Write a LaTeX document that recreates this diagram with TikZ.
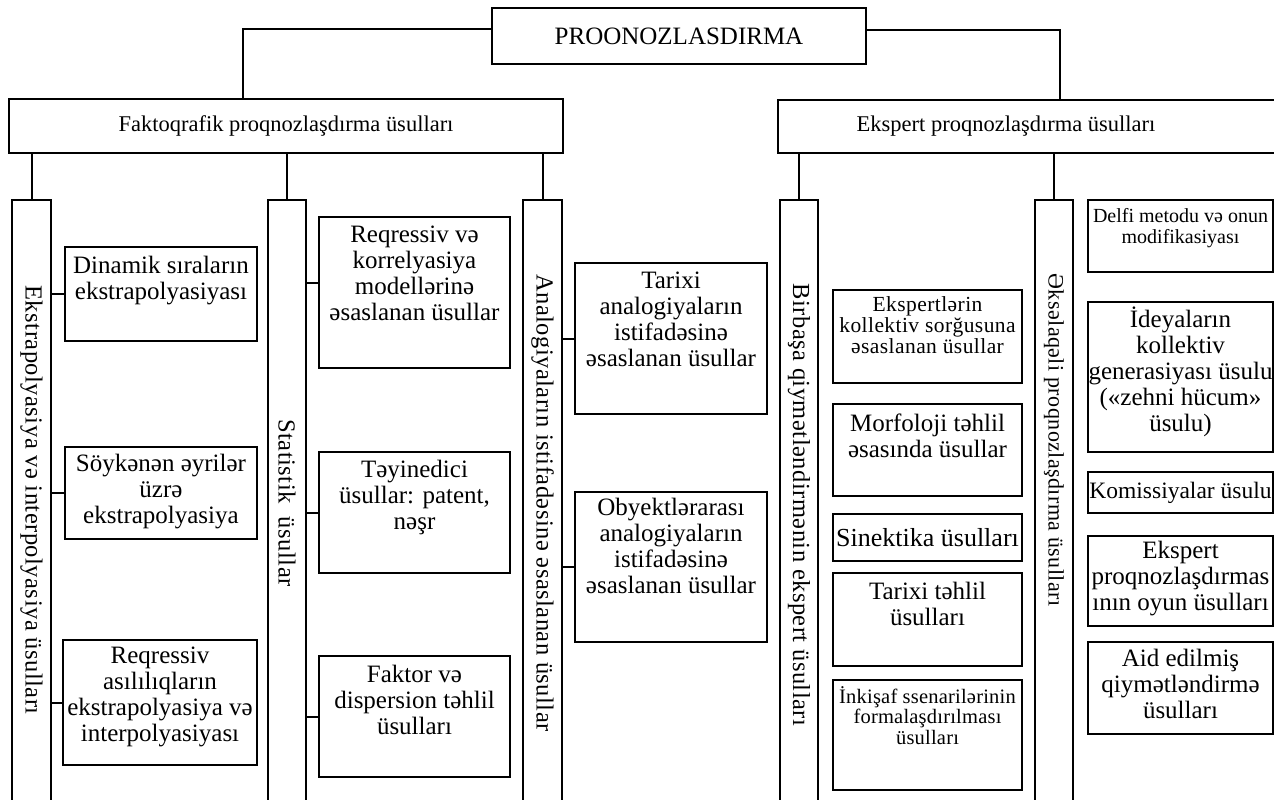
\documentclass[tikz,border=0pt]{standalone}
\usepackage{fontspec}
\setmainfont{Liberation Serif}
% rectangle node from its corners: name, x1, y1, x2, y2 (y grows downwards)
\newcommand\mkbox[5]{%
  \node[frame, minimum width={(#4-#2)*1pt}, minimum height={(#5-#3)*1pt}]
    (#1) at ({(#2+#4)/2},{(#3+#5)/2}) {};}
\begin{document}
\begin{tikzpicture}[x=1pt,y=-1pt,
  frame/.style={draw, line width=2pt, inner sep=0pt, outer sep=0pt},
  conn/.style={line width=2pt},
  big/.style={font=\fontsize{25}{26}\selectfont, align=center, inner sep=0pt},
  small/.style={font=\fontsize{20.5}{20.5}\selectfont\addfontfeatures{LetterSpace=1}, align=center, inner sep=0pt},
  head/.style={font=\fontsize{22.5}{24}\selectfont, inner sep=0pt},
  side/.style={font=\fontsize{24.5}{26}\selectfont\addfontfeatures{LetterSpace=2}, rotate=-90, inner sep=0pt},
  top/.style={anchor=north},
]
\useasboundingbox (0,0) rectangle (1274,800);
\clip (0,0) rectangle (1274,800);

% root and the two main groups
\mkbox{root}{492}{8}{866}{64}
\node[font=\fontsize{25}{28}\selectfont, inner sep=0pt] (root-t) at (root) {PROONOZLASDIRMA};
\mkbox{fakt}{9}{99}{563}{153}
\node[head] (fakt-t) at (fakt) {Faktoqrafik proqnozlaşdırma üsulları};
\mkbox{eksp}{778}{100}{1300}{153}
\node[head] (eksp-t) at (1006,126.5) {Ekspert proqnozlaşdırma üsulları};

\coordinate (jl) at (243,29);
\coordinate (jr) at (1060,30);
\draw[conn] (root.west |- jl) -- (jl) -- (jl |- fakt.north);
\draw[conn] (root.east |- jr) -- (jr) -- (jr |- eksp.north);

% tall group columns
\mkbox{t1}{12}{200}{51}{840}
\mkbox{t2}{268}{200}{306}{840}
\mkbox{t3}{523}{200}{562}{840}
\mkbox{t4}{780}{200}{818}{840}
\mkbox{t5}{1035}{200}{1073}{840}
\foreach \t in {t1,t2,t3} \draw[conn] (\t.north) -- (\t.north |- fakt.south);
\foreach \t in {t4,t5} \draw[conn] (\t.north) -- (\t.north |- eksp.south);

\node[side] (t1-t) at (31.5,500) {Ekstrapolyasiya və interpolyasiya üsulları};
\node[side] (t2-t) at (287,503) {Statistik\ \ üsullar};
\node[side] (t3-t) at (542.5,503) {Analogiyaların istifadəsinə əsaslanan üsullar};
\node[side] (t4-t) at (799,505) {Birbaşa qiymətləndirmənin ekspert üsulları};
\node[side, font=\fontsize{22}{24}\selectfont\addfontfeatures{LetterSpace=2}] (t5-t) at (1054,440) {Əksəlaqəli proqnozlaşdırma üsulları};

% extrapolation methods
\mkbox{a1}{65}{247}{257}{341}
\mkbox{a2}{65}{447}{257}{539}
\mkbox{a3}{63}{640}{257}{765}
\node[big,top] (a1-t) at ([yshift=-9pt]a1.north) {Dinamik sıraların\\ekstrapolyasiyası};
\node[big,top] (a2-t) at ([yshift=-7pt]a2.north) {Söykənən əyrilər\\üzrə\\ekstrapolyasiya};
\node[big,top] (a3-t) at ([yshift=-7pt]a3.north) {Reqressiv\\asılılıqların\\ekstrapolyasiya və\\interpolyasiyası};

% statistical methods
\mkbox{b1}{319}{217}{510}{368}
\mkbox{b2}{319}{452}{510}{573}
\mkbox{b3}{319}{656}{510}{777}
\node[big,top] (b1-t) at ([yshift=-9pt]b1.north) {Reqressiv və\\korrelyasiya\\modellərinə\\əsaslanan üsullar};
\node[big,top] (b2-t) at ([yshift=-8pt]b2.north) {Təyinedici\\üsullar: patent,\\nəşr};
\node[big,top] (b3-t) at ([yshift=-9pt]b3.north) {Faktor və\\dispersion təhlil\\üsulları};

% analogy methods
\mkbox{c1}{575}{263}{767}{414}
\mkbox{c2}{575}{492}{767}{642}
\node[big,top] (c1-t) at ([yshift=-9pt]c1.north) {Tarixi\\analogiyaların\\istifadəsinə\\əsaslanan üsullar};
\node[big,top] (c2-t) at ([yshift=-6pt]c2.north) {Obyektlərarası\\analogiyaların\\istifadəsinə\\əsaslanan üsullar};

\foreach \t/\b in {t1/a1,t1/a2,t1/a3,t2/b2,t2/b3,t3/c1,t3/c2}
  \draw[conn] (\b.west -| \t.east) -- (\b.west);
\draw[conn] ([yshift=10pt]b1.west -| t2.east) -- ([yshift=10pt]b1.west);

% direct expert estimation
\mkbox{d1}{833}{290}{1022}{383}
\mkbox{d2}{833}{404}{1022}{496}
\mkbox{d3}{833}{514}{1022}{561}
\mkbox{d4}{833}{573}{1022}{666}
\mkbox{d5}{833}{680}{1022}{790}
\node[small,top, font=\fontsize{21.5}{21}\selectfont\addfontfeatures{LetterSpace=2}] (d1-t) at ([yshift=-6pt]d1.north) {Ekspertlərin\\kollektiv sorğusuna\\əsaslanan üsullar};
\node[big,top] (d2-t) at ([yshift=-10pt]d2.north) {Morfoloji təhlil\\əsasında üsullar};
\node[big, font=\fontsize{26}{27}\selectfont] (d3-t) at (d3) {Sinektika üsulları};
\node[big,top] (d4-t) at ([yshift=-9pt]d4.north) {Tarixi təhlil\\üsulları};
\node[small,top] (d5-t) at ([yshift=-6pt]d5.north) {İnkişaf ssenarilərinin\\formalaşdırılması\\üsulları};

% feedback forecasting
\mkbox{e1}{1088}{200}{1273}{272}
\mkbox{e2}{1088}{302}{1273}{452}
\mkbox{e3}{1088}{472}{1273}{513}
\mkbox{e4}{1088}{536}{1273}{626}
\mkbox{e5}{1088}{642}{1273}{734}
\node[small,top, font=\fontsize{20}{21}\selectfont] (e1-t) at ([yshift=-8pt]e1.north) {Delfi metodu və onun\\modifikasiyası};
\node[big,top] (e2-t) at ([yshift=-5pt]e2.north) {İdeyaların\\kollektiv\\generasiyası üsulu\\(«zehni hücum»\\üsulu)};
\node[big, font=\fontsize{23.5}{25}\selectfont] (e3-t) at (e3) {Komissiyalar üsulu};
\node[big,top] (e4-t) at ([yshift=-5pt]e4.north) {Ekspert\\proqnozlaşdırmas\\ının oyun üsulları};
\node[big,top] (e5-t) at ([yshift=-7pt]e5.north) {Aid edilmiş\\qiymətləndirmə\\üsulları};
\end{tikzpicture}
\end{document}
